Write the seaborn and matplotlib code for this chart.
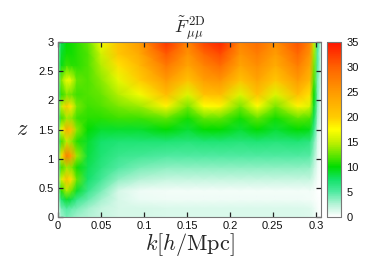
"""
Fisher information map F~2D_mumu over (k, z), gnuplot-style smooth colour map.
"""

import numpy as np
import matplotlib
matplotlib.use("Agg")
import matplotlib.pyplot as plt
from matplotlib.colors import LinearSegmentedColormap
from matplotlib.ticker import FormatStrFormatter
import seaborn as sns

# k grid [h/Mpc] (columns)
k_vals = [0.0, 0.004, 0.01, 0.016, 0.022, 0.035, 0.05, 0.07, 0.095, 0.126, 0.151,
          0.17, 0.189, 0.212, 0.232, 0.253, 0.279, 0.293, 0.298, 0.302, 0.306]

# redshift grid (rows)
z_vals = [0.0, 0.15, 0.3, 0.45, 0.65, 0.85, 1.05, 1.3, 1.5, 1.7, 1.9, 2.1,
          2.35, 2.6, 2.8, 3.0]

# values, one row per z, one column per k
f_grid = [
    [1.0, 3.0, 4.0, 3.5, 3.0, 2.5, 2.0, 1.5, 1.5, 1.3, 1.3, 1.3, 1.3, 1.3, 1.3, 1.3, 1.3, 1.2, 0.8, 0.4, 0.0],
    [1.5, 4.0, 5.0, 4.5, 4.0, 3.0, 2.0, 1.5, 1.5, 1.3, 1.3, 1.3, 1.3, 1.3, 1.3, 1.3, 1.3, 1.2, 0.8, 0.4, 0.0],
    [3.0, 7.0, 9.0, 8.0, 6.0, 4.5, 3.0, 1.5, 0.8, 0.6, 0.6, 0.6, 0.6, 0.6, 0.6, 0.6, 0.6, 0.5, 0.4, 0.2, 0.0],
    [4.0, 11.0, 14.5, 12.5, 9.0, 6.0, 4.0, 1.5, 0.6, 0.5, 0.5, 0.5, 0.5, 0.5, 0.5, 0.5, 0.5, 0.5, 0.3, 0.1, 0.0],
    [4.5, 16.0, 21.0, 19.0, 12.5, 7.5, 5.5, 3.5, 2.5, 2.0, 2.0, 2.0, 2.0, 2.0, 2.0, 2.0, 2.0, 2.0, 1.2, 0.5, 0.0],
    [4.5, 11.5, 14.0, 13.0, 10.5, 8.0, 6.5, 5.0, 4.0, 3.5, 3.5, 3.5, 3.5, 3.5, 3.5, 3.5, 3.5, 3.3, 2.0, 0.8, 0.0],
    [5.0, 19.0, 28.0, 24.0, 14.0, 8.5, 7.0, 6.0, 5.5, 5.0, 5.0, 5.0, 5.0, 5.0, 5.0, 5.0, 5.0, 4.8, 3.0, 1.0, 0.0],
    [5.0, 11.5, 15.0, 13.5, 11.0, 9.0, 7.5, 7.0, 7.0, 7.0, 6.8, 7.0, 7.0, 6.8, 7.0, 6.8, 7.0, 6.5, 4.0, 1.5, 0.2],
    [5.0, 17.0, 23.0, 21.0, 13.5, 10.0, 9.0, 9.0, 9.0, 10.0, 8.8, 10.0, 10.0, 8.8, 10.0, 8.8, 10.0, 9.5, 6.0, 2.0, 0.3],
    [5.0, 11.5, 14.0, 13.5, 11.5, 11.0, 11.0, 11.5, 11.5, 12.5, 10.5, 12.5, 12.5, 10.5, 12.5, 10.5, 12.5, 12.0, 8.0, 3.0, 0.5],
    [5.0, 15.5, 20.0, 18.5, 13.0, 11.5, 12.0, 13.0, 14.0, 18.0, 13.0, 17.5, 18.0, 13.0, 17.5, 13.0, 18.0, 16.0, 9.0, 3.5, 0.5],
    [5.0, 11.0, 13.0, 12.5, 11.5, 12.0, 12.5, 14.5, 17.0, 21.5, 16.0, 21.0, 21.5, 16.0, 21.0, 16.0, 21.5, 19.0, 10.0, 4.0, 0.5],
    [5.0, 13.5, 17.0, 16.0, 12.5, 12.0, 13.5, 16.5, 20.0, 25.0, 21.0, 24.5, 25.5, 21.0, 24.0, 20.5, 25.0, 22.0, 12.0, 4.0, 1.0],
    [4.5, 9.5, 11.5, 11.0, 11.0, 12.0, 14.5, 19.0, 22.0, 28.0, 24.0, 27.0, 29.0, 24.0, 26.0, 23.0, 27.5, 24.0, 13.0, 5.0, 1.0],
    [4.5, 9.0, 10.5, 10.5, 11.0, 12.0, 15.5, 20.5, 23.5, 30.5, 25.5, 29.5, 31.5, 25.5, 27.5, 24.5, 29.5, 25.5, 14.0, 5.0, 1.0],
    [4.0, 8.0, 10.0, 10.5, 11.0, 12.5, 17.0, 21.0, 25.0, 33.0, 27.0, 32.0, 34.0, 27.0, 29.0, 26.0, 31.0, 27.0, 15.0, 6.0, 1.0],
]

cbar_ticks = [0, 5, 10, 15, 20, 25, 30, 35]

# white -> mint -> green -> yellow -> orange -> red, as in the gnuplot palette
palette_stops = [
    (0.0, "#ffffff"),
    (2.5 / 35, "#b4f3d6"),
    (5.0 / 35, "#4eeaa0"),
    (7.5 / 35, "#12e268"),
    (10.0 / 35, "#00dc00"),
    (12.5 / 35, "#66e600"),
    (15.0 / 35, "#c4f000"),
    (17.5 / 35, "#ffff00"),
    (20.0 / 35, "#ffcc00"),
    (25.0 / 35, "#ff9a00"),
    (30.0 / 35, "#ff6200"),
    (1.0, "#ff1400"),
]
cmap = LinearSegmentedColormap.from_list("gp", palette_stops)

sns.set_style("ticks")
plt.rcParams["font.family"] = ["Liberation Sans", "DejaVu Sans"]
plt.rcParams["mathtext.fontset"] = "cm"

fig = plt.figure(figsize=(3.79, 2.66), dpi=100)
ax = fig.add_axes([58 / 379, 49 / 266, 263 / 379, 175 / 266])
cax = fig.add_axes([327 / 379, 49 / 266, 14 / 379, 175 / 266])

K, Z = np.meshgrid(np.array(k_vals), np.array(z_vals))
mesh = ax.pcolormesh(K, Z, np.array(f_grid), cmap=cmap, vmin=0, vmax=35,
                     shading="gouraud", rasterized=True, zorder=0)

ax.set_xlim(0, 0.306)
ax.set_ylim(0, 3)
ax.set_xticks([0, 0.05, 0.1, 0.15, 0.2, 0.25, 0.3])
ax.set_yticks([0, 0.5, 1, 1.5, 2, 2.5, 3])
ax.xaxis.set_major_formatter(FormatStrFormatter("%g"))
ax.yaxis.set_major_formatter(FormatStrFormatter("%g"))
ax.tick_params(direction="in", top=True, right=True, length=3.5, width=0.9,
               labelsize=8, pad=3, color="#222222", labelcolor="#111111")

for a in (ax, cax):
    for sp in a.spines.values():
        sp.set_color("#777777")
        sp.set_linewidth(0.8)

ax.set_title(r"$\tilde{F}^{\,\rm 2D}_{\mu\mu}$", fontsize=13, pad=7)
ax.set_xlabel(r"$k[h/{\rm Mpc}]$", fontsize=16, labelpad=0)
ax.set_ylabel(r"$z$", fontsize=16, rotation=0, labelpad=12, va="center")

cb = fig.colorbar(mesh, cax=cax, ticks=cbar_ticks)
cb.outline.set_edgecolor("#777777")
cb.outline.set_linewidth(0.8)
cax.tick_params(direction="in", left=True, right=True, length=2.5, width=0.7,
                labelsize=8, pad=4, color="#333333", labelcolor="#111111")

fig.savefig("out.png", dpi=100)
